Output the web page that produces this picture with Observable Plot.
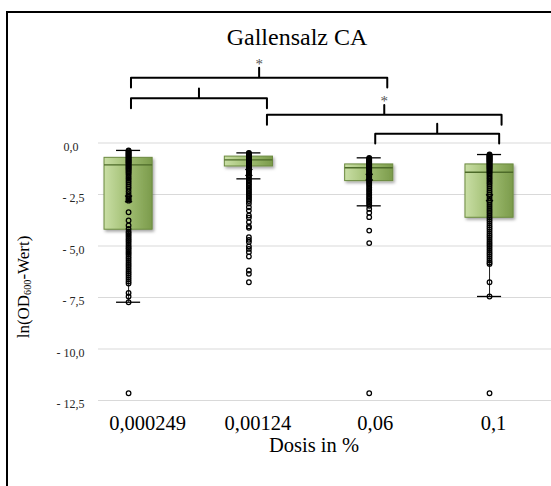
<!DOCTYPE html>
<html>
<head>
<meta charset="utf-8">
<script src="https://cdn.jsdelivr.net/npm/d3@7"></script>
<script src="https://cdn.jsdelivr.net/npm/@observablehq/plot@0.6"></script>
<style>
  body { margin: 0; background: #fff; }
  #chart { position: relative; width: 551px; height: 486px; overflow: hidden;
           font-family: "Liberation Serif", "LiberationSerif", "Tinos", "DejaVu Serif", serif; color: #000; }
  #chart svg { position: absolute; left: 0; top: 0; }
  #frame { position: absolute; left: 6px; top: 11px; width: 800px; height: 800px;
           border-left: 2px solid #000; border-top: 2px solid #000; }
  #title { position: absolute; left: 97px; top: 25px; width: 400px; text-align: center;
           font-size: 24px; line-height: 24px; }
  #xtitle { position: absolute; left: 214px; top: 435px; width: 200px; text-align: center;
            font-size: 20.5px; line-height: 20px; }
  #ytitle { position: absolute; left: -76px; top: 277px; width: 200px; height: 20px;
            text-align: center; font-size: 17px; line-height: 20px;
            transform: rotate(-90deg); transform-origin: 50% 50%; white-space: nowrap; }
  #ytitle sub { font-size: 0.6em; vertical-align: -0.2em; line-height: 0; }
</style>
</head>
<body>
<div id="chart">
  <div id="frame"></div>
  <div id="title">Gallensalz CA</div>
  <div id="xtitle">Dosis in %</div>
  <div id="ytitle">ln(OD<sub>600</sub>-Wert)</div>
</div>
<script>
// Dose groups (x categories)
const categories = ["0,000249", "0,00124", "0,06", "0,1"];

// Box summaries per dose: ln(OD600)
const upperWhisker = [-0.36, -0.48, -0.72, -0.56];
const upperQuartile = [-0.72, -0.66, -1.04, -1.04];
const medians = [-1.06, -0.82, -1.20, -1.42];
const lowerQuartile = [-4.21, -1.14, -1.85, -3.63];
const lowerWhisker = [-7.73, -1.74, -3.05, -7.45];
const means = [-2.71, -1.43, -1.66, -2.66];

// Individual measurements per dose
const dose1 = [-0.36, -0.40, -0.44, -0.48, -0.52, -0.56, -0.60, -0.64, -0.68, -0.72, -0.76, -0.80,
  -0.84, -0.88, -0.92, -0.96, -1.00, -1.05, -1.10, -1.15, -1.20, -1.25, -1.30, -1.36, -1.42, -1.48,
  -1.56, -1.66, -1.74, -1.83, -1.92, -2.02, -2.12, -2.22, -2.35, -2.48, -2.60, -2.68, -2.74, -2.80,
  -3.36, -3.76, -4.00, -4.17, -4.30, -4.38, -4.46, -4.55, -4.64, -4.72, -4.80, -4.90, -5.00, -5.08,
  -5.16, -5.25, -5.34, -5.42, -5.52, -5.62, -5.72, -5.82, -5.92, -6.02, -6.12, -6.22, -6.32, -6.42,
  -6.52, -6.62, -6.72, -6.82, -7.28, -7.45, -7.73, -12.15];
const dose2 = [-0.48, -0.51, -0.54, -0.57, -0.60, -0.63, -0.66, -0.69, -0.72, -0.75, -0.78, -0.81,
  -0.84, -0.87, -0.90, -0.94, -0.98, -1.02, -1.06, -1.10, -1.15, -1.20, -1.25, -1.30, -1.36, -1.42,
  -1.48, -1.55, -1.62, -1.70, -1.78, -1.86, -1.94, -2.02, -2.10, -2.18, -2.26, -2.34, -2.42, -2.50,
  -2.58, -2.66, -2.74, -2.82, -2.94, -3.12, -3.28, -3.52, -3.63, -3.84, -4.05, -4.12, -4.57, -4.70,
  -4.81, -5.02, -5.14, -5.30, -5.51, -6.19, -6.35, -6.76];
const dose3 = [-0.72, -0.76, -0.80, -0.84, -0.88, -0.92, -0.96, -1.00, -1.04, -1.08, -1.12, -1.16,
  -1.20, -1.25, -1.30, -1.35, -1.40, -1.46, -1.52, -1.58, -1.64, -1.70, -1.76, -1.82, -1.88, -1.94,
  -2.00, -2.08, -2.16, -2.24, -2.32, -2.40, -2.48, -2.56, -2.64, -2.72, -2.80, -2.88, -2.96, -3.05,
  -3.20, -3.38, -3.60, -4.25, -4.86, -12.15];
const dose4 = [-0.56, -0.59, -0.62, -0.65, -0.68, -0.71, -0.74, -0.77, -0.80, -0.83, -0.86, -0.89,
  -0.92, -0.96, -1.00, -1.04, -1.08, -1.12, -1.16, -1.20, -1.25, -1.30, -1.35, -1.40, -1.46, -1.52,
  -1.60, -1.68, -1.76, -1.84, -1.92, -2.00, -2.10, -2.20, -2.30, -2.40, -2.50, -2.60, -2.70, -2.80,
  -2.90, -3.00, -3.10, -3.20, -3.30, -3.40, -3.50, -3.60, -3.70, -3.80, -3.90, -4.00, -4.10, -4.20,
  -4.30, -4.40, -4.50, -4.60, -4.70, -4.80, -4.90, -5.00, -5.10, -5.20, -5.30, -5.40, -5.50, -5.60,
  -5.70, -5.80, -5.87, -6.76, -7.45, -12.15];
const measurements = [dose1, dose2, dose3, dose4];

// Y axis ticks
const yTicks = [0, -2.5, -5, -7.5, -10, -12.5];

// Significance brackets between dose groups (x in group index units, level in ln units)
const bracketFrom = [0.02, 0.02, 1.15, 2.05];
const bracketTo = [2.15, 1.15, 3.10, 3.08];
const bracketLevel = [3.17, 2.17, 1.37, 0.45];
const bracketLabel = ["*", "", "*", ""];

// Per-label horizontal nudge of the category labels (px)
const labelNudge = [19, 9, 6, 4];

const stats = categories.map((c, i) => ({
  i, c, hi: upperWhisker[i], q3: upperQuartile[i], med: medians[i],
  q1: lowerQuartile[i], lo: lowerWhisker[i], mean: means[i]
}));
const points = measurements.flatMap((vals, i) => vals.map(v => ({i, v})));

const boxHalf = 0.2, capHalf = 0.1, arm = 0.48;
const brackets = bracketFrom.map((f, k) => ({
  k, from: f, to: bracketTo[k], level: bracketLevel[k],
  mid: (f + bracketTo[k]) / 2, label: bracketLabel[k]
}));
const bracketPath = brackets.flatMap(b => [
  {k: b.k, x: b.from, y: b.level - arm},
  {k: b.k, x: b.from, y: b.level},
  {k: b.k, x: b.mid, y: b.level},
  {k: b.k, x: b.mid, y: b.level + arm},
  {k: b.k, x: b.mid, y: b.level},
  {k: b.k, x: b.to, y: b.level},
  {k: b.k, x: b.to, y: b.level - arm}
]);

const fmt = v => v === 0 ? "0,0\u2002" : "- " + Math.abs(v).toFixed(1).replace(".", ",");
const serif = "'Liberation Serif', 'LiberationSerif', 'Tinos', 'DejaVu Serif', serif";

const plot = Plot.plot({
  width: 551,
  height: 486,
  marginLeft: 98,
  marginRight: 0,
  marginTop: 142.5,
  marginBottom: 86,
  style: {fontFamily: serif, color: "#262626", background: "transparent"},
  x: {domain: [-0.25, 3.515], axis: null},
  y: {domain: [-12.5, 0]},
  marks: [
    Plot.ruleY(yTicks, {stroke: "#d9d9d9", strokeWidth: 1}),
    Plot.axisY(yTicks, {anchor: "left", tickSize: 0, tickPadding: 14, tickFormat: fmt,
      fontSize: 12, dy: 4, label: null, fill: "#262626"}),
    // whisker stems
    Plot.ruleX(stats, {x: "i", y1: "lo", y2: "hi", stroke: "#222", strokeWidth: 1}),
    // boxes
    Plot.rect(stats, {x1: d => d.i - boxHalf, x2: d => d.i + boxHalf, y1: "q1", y2: "q3",
      fill: "#9ab86a", stroke: "#6b8a3f", strokeWidth: 1}),
    Plot.ruleY(stats, {x1: d => d.i - boxHalf, x2: d => d.i + boxHalf, y: "med",
      stroke: "#4d6a29", strokeWidth: 1.4}),
    // measurements
    Plot.dot(points, {x: "i", y: "v", r: 2.3, stroke: "#000", strokeWidth: 1.25, fill: "none"}),
    // whisker caps
    Plot.ruleY(stats, {x1: d => d.i - capHalf, x2: d => d.i + capHalf, y: "hi", stroke: "#000", strokeWidth: 1.3}),
    Plot.ruleY(stats, {x1: d => d.i - capHalf, x2: d => d.i + capHalf, y: "lo", stroke: "#000", strokeWidth: 1.3}),
    // means
    Plot.dot(stats, {x: "i", y: "mean", symbol: "times", r: 3.2, stroke: "#000", strokeWidth: 1.4}),
    // category labels
    ...categories.map((c, i) => Plot.text([c], {x: () => i, y: () => -12.5, text: d => d,
      lineAnchor: "bottom", dy: 29, dx: labelNudge[i], fontSize: 20.5, fill: "#000"})),
    // significance brackets
    Plot.line(bracketPath, {x: "x", y: "y", z: "k", stroke: "#000", strokeWidth: 2,
      strokeLinejoin: "round", strokeLinecap: "round"}),
    Plot.text(brackets.filter(b => b.label), {x: "mid", y: d => d.level + arm, text: "label",
      lineAnchor: "bottom", dy: 1, fontSize: 15, fill: "#555"})
  ]
});

// gradient fill and soft shadow for the boxes
const svg = d3.select(plot);
const defs = svg.insert("defs", ":first-child");
const grad = defs.append("linearGradient").attr("id", "boxFill")
  .attr("x1", "0").attr("x2", "1").attr("y1", "0").attr("y2", "0");
grad.append("stop").attr("offset", "0").attr("stop-color", "#c9dea5");
grad.append("stop").attr("offset", "0.45").attr("stop-color", "#a4c176");
grad.append("stop").attr("offset", "1").attr("stop-color", "#7b9b4b");
const shadow = defs.append("filter").attr("id", "boxShadow")
  .attr("x", "-20%").attr("y", "-20%").attr("width", "150%").attr("height", "150%");
shadow.append("feDropShadow").attr("dx", 1.5).attr("dy", 2).attr("stdDeviation", 1.5)
  .attr("flood-color", "#000").attr("flood-opacity", 0.35);
svg.selectAll('g[aria-label="rect"]').attr("filter", "url(#boxShadow)")
  .attr("fill", "url(#boxFill)")
  .selectAll("rect").attr("fill", "url(#boxFill)");

document.getElementById("chart").insertBefore(plot, document.getElementById("frame"));
</script>
</body>
</html>
